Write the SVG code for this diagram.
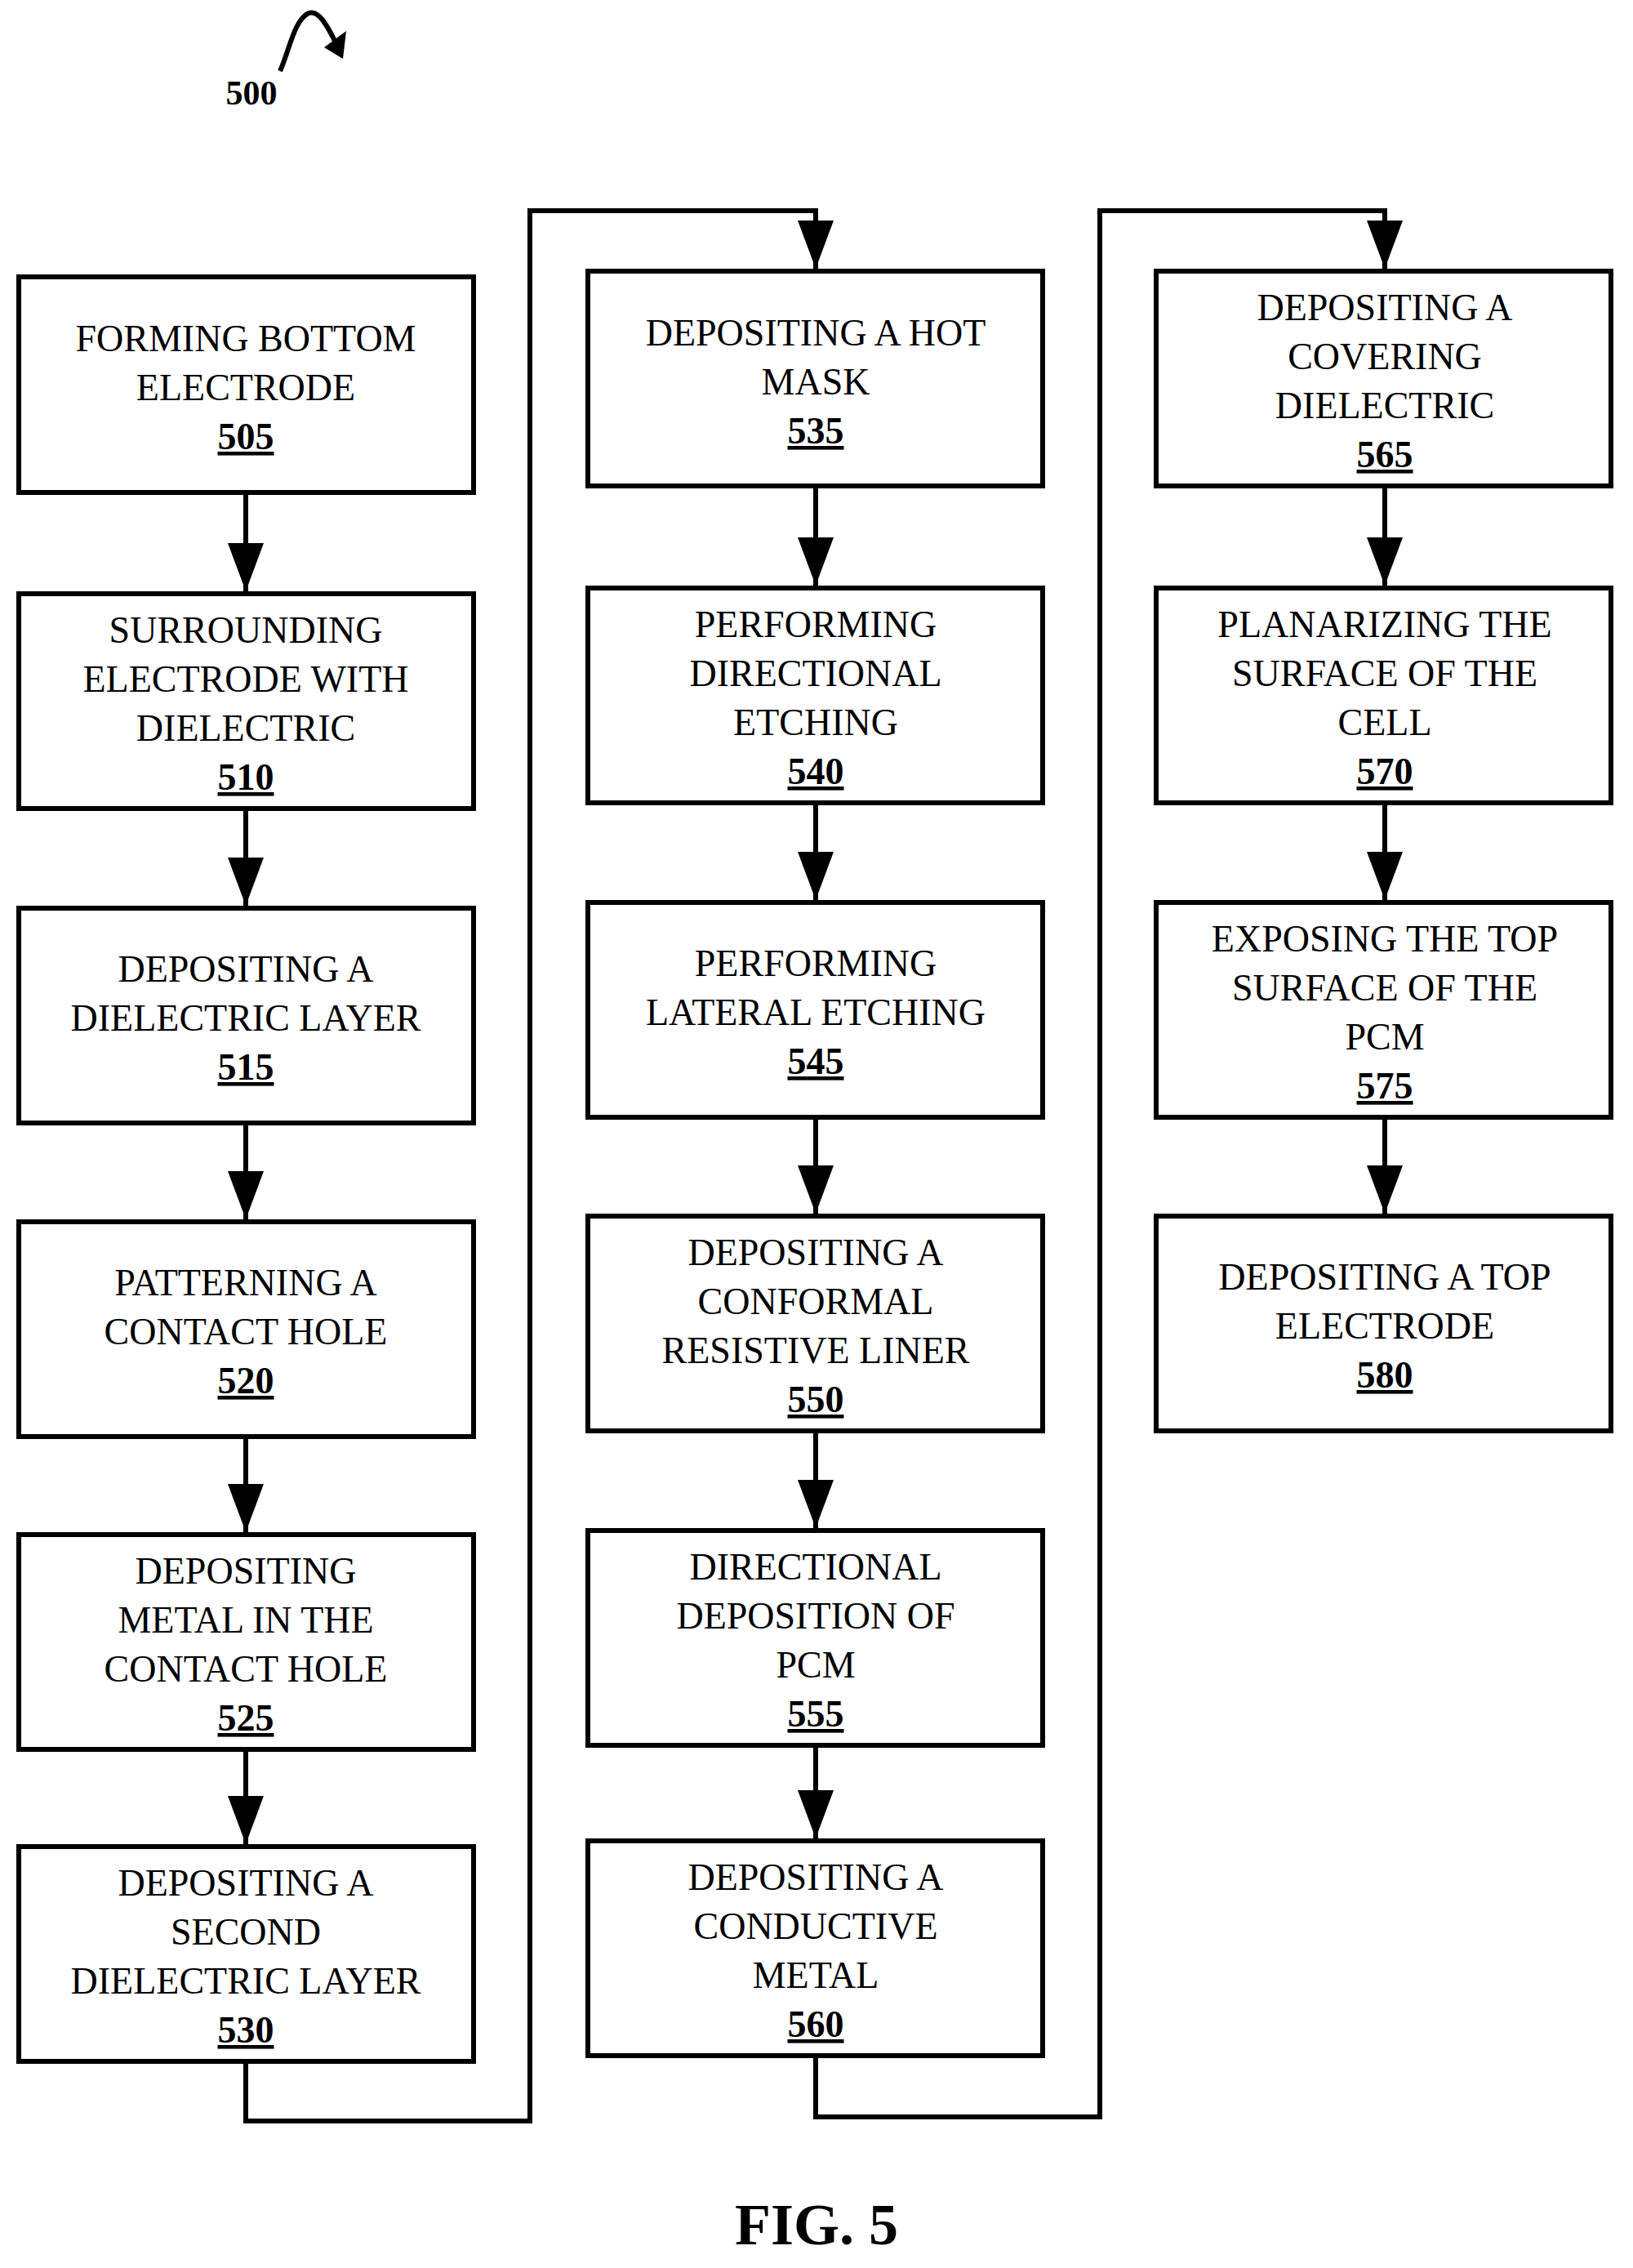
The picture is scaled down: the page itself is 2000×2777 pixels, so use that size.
<svg xmlns="http://www.w3.org/2000/svg" width="2000" height="2777" viewBox="0 0 2000 2777">
<style>
.b{fill:#fff;stroke:#000;stroke-width:6}
.t{font-family:"Liberation Serif",serif;font-size:46px;text-anchor:middle;fill:#000}
.n{font-weight:bold;text-decoration:underline}
.c{fill:none;stroke:#000;stroke-width:6}
</style>
<defs>
<marker id="a" markerUnits="userSpaceOnUse" markerWidth="44" markerHeight="60" refX="22" refY="58" orient="auto-start-reverse" viewBox="0 0 44 60"><path d="M0,0 L44,0 L22,60 Z" fill="#000" transform="rotate(0)"/></marker>
<marker id="ar" markerUnits="userSpaceOnUse" markerWidth="60" markerHeight="44" refX="58" refY="22" orient="auto" viewBox="0 0 60 44"><path d="M0,0 L60,22 L0,44 Z" fill="#000"/></marker>
</defs>
<rect width="2000" height="2777" fill="#fff"/>
<g id="label500">
<text x="308" y="128" class="t" style="font-weight:bold;font-size:42px">500</text>
<path d="M343,87 C355,60 360,25 378,16 C390,12 400,30 410,50" class="c" stroke-width="5"/>
<path d="M424,38 L420,72 L397,58 Z" fill="#000"/>
</g>
<g id="connectors">
<path d="M301,603 V725" class="c" marker-end="url(#ar)" style="marker-end:none"/>
<path d="M301,603 L301,724" class="c"/><path d="M279,665 L323,665 L301,724 Z"/>
<path d="M301,990 L301,1109"/>
<line x1="301" y1="603" x2="301" y2="724" class="c"/>
<line x1="301" y1="990" x2="301" y2="1109" class="c"/><path d="M279,1050 L323,1050 L301,1109 Z"/>
<line x1="301" y1="1375" x2="301" y2="1493" class="c"/><path d="M279,1434 L323,1434 L301,1493 Z"/>
<line x1="301" y1="1759" x2="301" y2="1876" class="c"/><path d="M279,1817 L323,1817 L301,1876 Z"/>
<line x1="301" y1="2142" x2="301" y2="2258" class="c"/><path d="M279,2199 L323,2199 L301,2258 Z"/>
<polyline points="301,2524 301,2597 649,2597 649,258 999,258 999,329" class="c"/><path d="M977,270 L1021,270 L999,329 Z"/>
<line x1="999" y1="595" x2="999" y2="717" class="c"/><path d="M977,658 L1021,658 L999,717 Z"/>
<line x1="999" y1="983" x2="999" y2="1102" class="c"/><path d="M977,1043 L1021,1043 L999,1102 Z"/>
<line x1="999" y1="1368" x2="999" y2="1486" class="c"/><path d="M977,1427 L1021,1427 L999,1486 Z"/>
<line x1="999" y1="1752" x2="999" y2="1871" class="c"/><path d="M977,1812 L1021,1812 L999,1871 Z"/>
<line x1="999" y1="2137" x2="999" y2="2251" class="c"/><path d="M977,2192 L1021,2192 L999,2251 Z"/>
<polyline points="999,2517 999,2592 1347,2592 1347,258 1696,258 1696,329" class="c"/><path d="M1674,270 L1718,270 L1696,329 Z"/>
<line x1="1696" y1="595" x2="1696" y2="717" class="c"/><path d="M1674,658 L1718,658 L1696,717 Z"/>
<line x1="1696" y1="983" x2="1696" y2="1102" class="c"/><path d="M1674,1043 L1718,1043 L1696,1102 Z"/>
<line x1="1696" y1="1368" x2="1696" y2="1486" class="c"/><path d="M1674,1427 L1718,1427 L1696,1486 Z"/>
</g>
<g id="n505"><rect x="23" y="339" width="557" height="264" class="b"/><text class="t"><tspan x="301" y="430">FORMING BOTTOM</tspan><tspan x="301" y="490">ELECTRODE</tspan><tspan x="301" y="550" class="n">505</tspan></text></g>
<g id="n510"><rect x="23" y="727" width="557" height="263" class="b"/><text class="t"><tspan x="301" y="787">SURROUNDING</tspan><tspan x="301" y="847">ELECTRODE WITH</tspan><tspan x="301" y="907">DIELECTRIC</tspan><tspan x="301" y="967" class="n">510</tspan></text></g>
<g id="n515"><rect x="23" y="1112" width="557" height="263" class="b"/><text class="t"><tspan x="301" y="1202">DEPOSITING A</tspan><tspan x="301" y="1262">DIELECTRIC LAYER</tspan><tspan x="301" y="1322" class="n">515</tspan></text></g>
<g id="n520"><rect x="23" y="1496" width="557" height="263" class="b"/><text class="t"><tspan x="301" y="1586">PATTERNING A</tspan><tspan x="301" y="1646">CONTACT HOLE</tspan><tspan x="301" y="1706" class="n">520</tspan></text></g>
<g id="n525"><rect x="23" y="1879" width="557" height="263" class="b"/><text class="t"><tspan x="301" y="1939">DEPOSITING</tspan><tspan x="301" y="1999">METAL IN THE</tspan><tspan x="301" y="2059">CONTACT HOLE</tspan><tspan x="301" y="2119" class="n">525</tspan></text></g>
<g id="n530"><rect x="23" y="2261" width="557" height="263" class="b"/><text class="t"><tspan x="301" y="2321">DEPOSITING A</tspan><tspan x="301" y="2381">SECOND</tspan><tspan x="301" y="2441">DIELECTRIC LAYER</tspan><tspan x="301" y="2501" class="n">530</tspan></text></g>
<g id="n535"><rect x="720" y="332" width="557" height="263" class="b"/><text class="t"><tspan x="999" y="423">DEPOSITING A HOT</tspan><tspan x="999" y="483">MASK</tspan><tspan x="999" y="543" class="n">535</tspan></text></g>
<g id="n540"><rect x="720" y="720" width="557" height="263" class="b"/><text class="t"><tspan x="999" y="780">PERFORMING</tspan><tspan x="999" y="840">DIRECTIONAL</tspan><tspan x="999" y="900">ETCHING</tspan><tspan x="999" y="960" class="n">540</tspan></text></g>
<g id="n545"><rect x="720" y="1105" width="557" height="263" class="b"/><text class="t"><tspan x="999" y="1195">PERFORMING</tspan><tspan x="999" y="1255">LATERAL ETCHING</tspan><tspan x="999" y="1315" class="n">545</tspan></text></g>
<g id="n550"><rect x="720" y="1489" width="557" height="263" class="b"/><text class="t"><tspan x="999" y="1549">DEPOSITING A</tspan><tspan x="999" y="1609">CONFORMAL</tspan><tspan x="999" y="1669">RESISTIVE LINER</tspan><tspan x="999" y="1729" class="n">550</tspan></text></g>
<g id="n555"><rect x="720" y="1874" width="557" height="263" class="b"/><text class="t"><tspan x="999" y="1934">DIRECTIONAL</tspan><tspan x="999" y="1994">DEPOSITION OF</tspan><tspan x="999" y="2054">PCM</tspan><tspan x="999" y="2114" class="n">555</tspan></text></g>
<g id="n560"><rect x="720" y="2254" width="557" height="263" class="b"/><text class="t"><tspan x="999" y="2314">DEPOSITING A</tspan><tspan x="999" y="2374">CONDUCTIVE</tspan><tspan x="999" y="2434">METAL</tspan><tspan x="999" y="2494" class="n">560</tspan></text></g>
<g id="n565"><rect x="1416" y="332" width="557" height="263" class="b"/><text class="t"><tspan x="1696" y="392">DEPOSITING A</tspan><tspan x="1696" y="452">COVERING</tspan><tspan x="1696" y="512">DIELECTRIC</tspan><tspan x="1696" y="572" class="n">565</tspan></text></g>
<g id="n570"><rect x="1416" y="720" width="557" height="263" class="b"/><text class="t"><tspan x="1696" y="780">PLANARIZING THE</tspan><tspan x="1696" y="840">SURFACE OF THE</tspan><tspan x="1696" y="900">CELL</tspan><tspan x="1696" y="960" class="n">570</tspan></text></g>
<g id="n575"><rect x="1416" y="1105" width="557" height="263" class="b"/><text class="t"><tspan x="1696" y="1165">EXPOSING THE TOP</tspan><tspan x="1696" y="1225">SURFACE OF THE</tspan><tspan x="1696" y="1285">PCM</tspan><tspan x="1696" y="1345" class="n">575</tspan></text></g>
<g id="n580"><rect x="1416" y="1489" width="557" height="263" class="b"/><text class="t"><tspan x="1696" y="1579">DEPOSITING A TOP</tspan><tspan x="1696" y="1639">ELECTRODE</tspan><tspan x="1696" y="1699" class="n">580</tspan></text></g>
<text x="1000" y="2748" class="t" style="font-weight:bold;font-size:72px">FIG. 5</text>
</svg>
